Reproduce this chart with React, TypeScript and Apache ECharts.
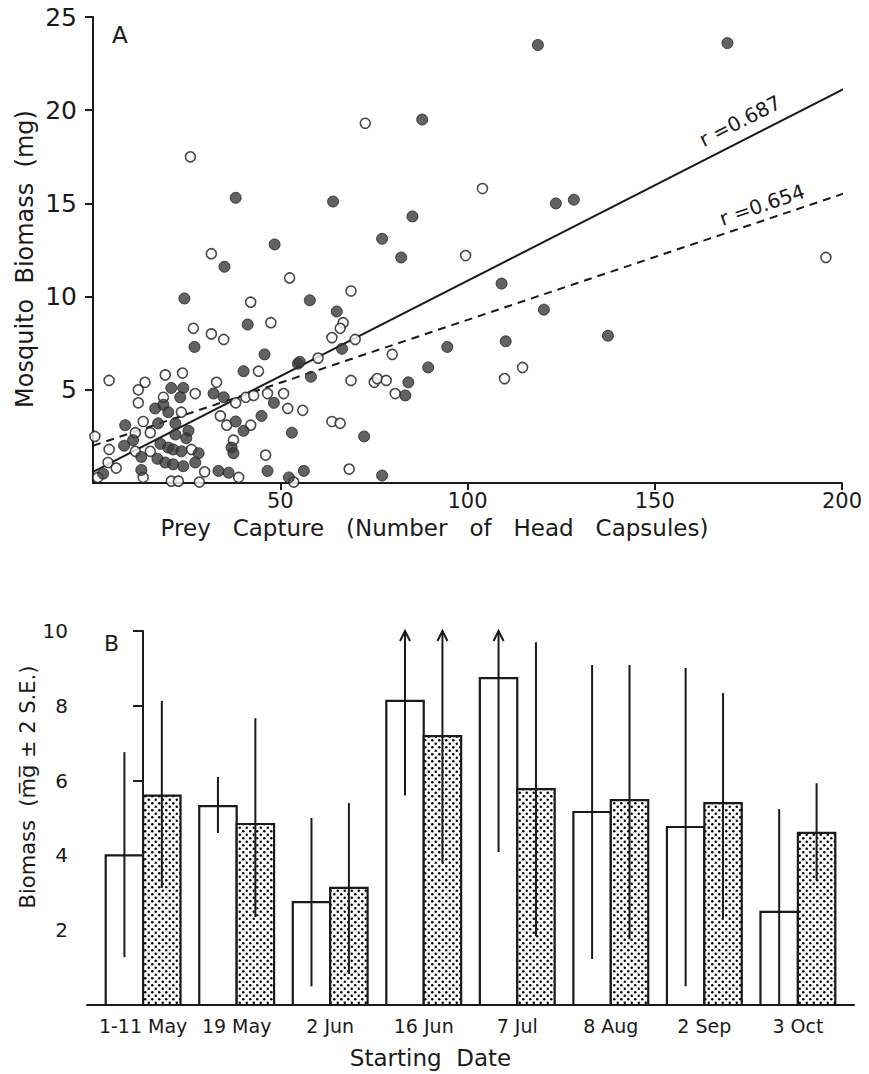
import React, { useEffect, useRef } from 'react';
import * as echarts from 'echarts';

// ---- Panel A: mosquito biomass vs prey capture ----
const openPoints: [number, number][] = [
  [0.5, 2.5], [4.3, 5.5], [4.3, 1.8], [4.0, 1.1], [6.2, 0.8], [1.3, 0.3], [12.1, 5.0], [13.9, 5.4],
  [12.1, 4.3], [13.4, 3.3], [11.3, 2.7], [15.3, 2.7], [11.3, 1.7], [15.3, 1.7], [13.4, 0.3], [19.3, 5.8],
  [23.9, 5.9], [18.8, 4.6], [23.6, 3.8], [27.3, 4.8], [33.0, 5.4], [34.0, 3.6], [35.7, 3.1], [37.5, 2.3],
  [38.1, 4.3], [40.8, 4.6], [42.9, 4.7], [42.1, 3.1], [44.2, 6.0], [46.1, 1.5], [46.6, 4.8], [50.9, 4.8],
  [52.0, 4.0], [56.0, 3.9], [26.3, 1.8], [29.8, 0.6], [20.9, 0.1], [22.8, 0.1], [28.4, 0.05], [38.9, 0.3],
  [53.6, 0.05], [31.6, 8.0], [34.9, 7.7], [26.8, 8.3], [42.1, 9.7], [47.5, 8.6], [31.6, 12.3], [52.5, 11.0],
  [26.0, 17.5], [72.7, 19.3], [104.0, 15.8], [99.5, 12.2], [195.7, 12.1], [68.9, 10.3], [66.8, 8.6], [66.0, 8.3],
  [63.8, 7.8], [70.0, 7.7], [60.1, 6.7], [68.9, 5.5], [75.1, 5.4], [75.9, 5.6], [78.3, 5.5], [79.9, 6.9],
  [80.7, 4.8], [109.9, 5.6], [114.7, 6.2], [63.8, 3.3], [66.0, 3.2], [68.4, 0.75],
];

const filledPoints: [number, number][] = [
  [24.4, 9.9], [35.1, 11.6], [41.3, 8.5], [27.1, 7.3], [45.8, 6.9], [40.2, 6.0], [54.7, 6.4], [32.2, 4.8],
  [34.9, 4.6], [20.9, 5.1], [24.1, 5.1], [23.3, 4.6], [16.6, 4.0], [18.8, 4.2], [20.1, 3.8], [17.4, 3.2],
  [8.6, 3.1], [22.0, 3.2], [25.5, 2.8], [22.0, 2.6], [24.9, 2.4], [10.7, 2.3], [8.3, 2.0], [18.0, 2.1],
  [20.1, 1.9], [21.4, 1.8], [23.6, 1.7], [28.2, 1.6], [12.9, 1.4], [17.2, 1.3], [19.3, 1.1], [21.4, 1.0],
  [24.1, 0.9], [27.3, 1.1], [12.9, 0.7], [2.7, 0.5], [33.5, 0.65], [36.2, 0.55], [38.1, 3.3], [40.2, 2.8],
  [37.0, 1.9], [37.5, 1.6], [45.0, 3.6], [48.3, 4.3], [53.1, 2.7], [46.6, 0.65], [52.3, 0.3], [56.3, 0.65],
  [48.5, 12.8], [64.1, 15.1], [77.2, 13.1], [85.3, 14.3], [87.9, 19.5], [118.8, 23.5], [169.4, 23.6], [123.6, 15.0],
  [128.4, 15.2], [38.1, 15.3], [82.3, 12.1], [57.9, 9.8], [65.1, 9.2], [109.1, 10.7], [120.4, 9.3], [66.5, 7.2],
  [55.2, 6.5], [58.2, 5.7], [72.4, 2.5], [94.6, 7.3], [89.5, 6.2], [110.2, 7.6], [84.2, 5.4], [83.4, 4.7],
  [77.2, 0.4], [137.5, 7.9],
];

// regression lines, given by their end points
const solidFit: [number, number][] = [[0, 0.6], [202, 21.3]];
const dashedFit: [number, number][] = [[0, 2.0], [203, 15.7]];
const solidFitLabel = 'r =0.687';
const dashedFitLabel = 'r =0.654';

// ---- Panel B: biomass by starting date ----
const dates = ['1-11 May', '19 May', '2 Jun', '16 Jun', '7 Jul', '8 Aug', '2 Sep', '3 Oct'];
const openMean = [4.0, 5.32, 2.75, 8.13, 8.74, 5.16, 4.76, 2.49];
const openLow = [1.28, 4.6, 0.5, 5.6, 4.09, 1.23, 0.5, 0];
const openHigh: (number | null)[] = [6.76, 6.1, 5.0, null, null, 9.09, 9.01, 5.24];
const dottedMean = [5.6, 4.84, 3.13, 7.19, 5.77, 5.48, 5.4, 4.6];
const dottedLow = [3.13, 2.35, 0.83, 3.82, 1.84, 1.76, 2.33, 3.34];
const dottedHigh: (number | null)[] = [8.13, 7.67, 5.4, null, 9.7, 9.09, 8.34, 5.93];

const INK = '#1a1a1a';
const FONT = 'DejaVu Sans';
const B_MAX = 10;

function makeStipple(): HTMLCanvasElement {
  const c = document.createElement('canvas');
  c.width = 7;
  c.height = 7;
  const g = c.getContext('2d')!;
  g.fillStyle = '#ffffff';
  g.fillRect(0, 0, 7, 7);
  g.fillStyle = '#000000';
  for (const [x, y] of [[1.75, 1.75], [5.25, 5.25]]) {
    g.beginPath();
    g.arc(x, y, 1.25, 0, Math.PI * 2);
    g.fill();
  }
  return c;
}

function barRenderer(lows: number[], highs: (number | null)[], side: number, fill: any) {
  return (params: any, api: any) => {
    const i = api.value(0);
    const m = api.value(1);
    const idx = params.dataIndex;
    const left = side < 0 ? i - 0.4 : i;
    const right = side < 0 ? i : i + 0.4;
    const pTop = api.coord([left, m]);
    const pBase = api.coord([right, 0]);
    const cx = api.coord([i + side * 0.2, 0])[0];
    const yLo = api.coord([i, lows[idx]])[1];
    const hi = highs[idx];
    const yHi = api.coord([i, hi == null ? B_MAX : hi])[1];
    const children: any[] = [
      {
        type: 'rect',
        shape: { x: pTop[0], y: pTop[1], width: pBase[0] - pTop[0], height: pBase[1] - pTop[1] },
        style: { fill, stroke: INK, lineWidth: 2.2 },
      },
      {
        type: 'line',
        shape: { x1: cx, y1: yLo, x2: cx, y2: yHi },
        style: { stroke: INK, lineWidth: 2 },
      },
    ];
    if (hi == null) {
      children.push({
        type: 'polyline',
        shape: { points: [[cx - 5, yHi + 10], [cx, yHi], [cx + 5, yHi + 10]] },
        style: { stroke: INK, lineWidth: 2, fill: 'none' },
      });
    }
    return { type: 'group', children };
  };
}

export default function App() {
  const ref = useRef<HTMLDivElement>(null);

  useEffect(() => {
    if (!ref.current) return;
    const chart = echarts.init(ref.current, null, { renderer: 'svg' });
    const stipple = { image: makeStipple(), repeat: 'repeat' };
    const gap2 = '\u00a0 ';
    const gap3 = '\u00a0\u00a0 ';

    const axisText = { color: INK, fontFamily: FONT };

    chart.setOption({
      animation: false,
      backgroundColor: '#ffffff',
      grid: [
        { left: 93, top: 17, width: 749, height: 466 },
        { left: 87, top: 631, width: 767, height: 374 },
      ],
      xAxis: [
        {
          gridIndex: 0,
          type: 'value',
          min: 0,
          max: 200,
          interval: 50,
          axisLine: { lineStyle: { color: INK, width: 2 } },
          axisTick: { length: 7, lineStyle: { color: INK, width: 2 }, customValues: [50, 100, 150, 200] },
          axisLabel: { ...axisText, fontSize: 21, margin: 7, formatter: (v: number) => (v === 0 ? '' : String(v)) },
          splitLine: { show: false },
          name: ['Prey', 'Capture', '(Number', 'of', 'Head', 'Capsules)'].join(gap3),
          nameLocation: 'middle',
          nameGap: 33,
          nameMoveOverlap: false,
          nameTextStyle: { ...axisText, fontSize: 23, padding: [0, 66, 0, 0] },
        },
        {
          gridIndex: 1,
          type: 'value',
          min: -0.6,
          max: 7.6,
          axisLine: { lineStyle: { color: INK, width: 2 } },
          axisTick: { show: false },
          axisLabel: {
            ...axisText,
            fontSize: 19,
            margin: 11,
            customValues: [0, 1, 2, 3, 4, 5, 6, 7],
            formatter: (v: number) => dates[Math.round(v)] ?? '',
          },
          splitLine: { show: false },
          name: ['Starting', 'Date'].join(gap2),
          nameLocation: 'middle',
          nameGap: 41,
          nameMoveOverlap: false,
          nameTextStyle: { ...axisText, fontSize: 23, padding: [0, 80, 0, 0] },
        },
      ],
      yAxis: [
        {
          gridIndex: 0,
          type: 'value',
          min: 0,
          max: 25,
          interval: 5,
          axisLine: { show: true, lineStyle: { color: INK, width: 2 } },
          axisTick: { show: true, length: 8, lineStyle: { color: INK, width: 2 }, customValues: [5, 10, 15, 20, 25] },
          axisLabel: { ...axisText, fontSize: 25, margin: 16, formatter: (v: number) => (v === 0 ? '' : String(v)) },
          splitLine: { show: false },
          name: ['Mosquito', 'Biomass', '(mg)'].join(gap2),
          nameLocation: 'middle',
          nameGap: 56,
          nameMoveOverlap: false,
          nameTextStyle: { ...axisText, fontSize: 24, padding: [0, 18, 0, 0] },
        },
        {
          gridIndex: 1,
          type: 'value',
          min: 0,
          max: B_MAX,
          interval: 2,
          axisLine: { show: true, lineStyle: { color: INK, width: 2 } },
          axisTick: { show: true, length: 10, lineStyle: { color: INK, width: 2 }, customValues: [2, 4, 6, 8, 10] },
          axisLabel: { ...axisText, fontSize: 20, margin: 19, formatter: (v: number) => (v === 0 ? '' : String(v)) },
          splitLine: { show: false },
          name: 'Biomass' + gap2 + '(m\u0305g\u0305 \u00b1 2 S.E.)',
          nameLocation: 'middle',
          nameGap: 49,
          nameMoveOverlap: false,
          nameTextStyle: { ...axisText, fontSize: 21, padding: [0, 0, 0, 62] },
        },
      ],
      series: [
        {
          type: 'scatter',
          xAxisIndex: 0,
          yAxisIndex: 0,
          data: openPoints,
          symbol: 'circle',
          symbolSize: 10,
          itemStyle: { color: '#ffffff', borderColor: INK, borderWidth: 1.6 },
          z: 3,
        },
        {
          type: 'scatter',
          xAxisIndex: 0,
          yAxisIndex: 0,
          data: filledPoints,
          symbol: 'circle',
          symbolSize: 11,
          itemStyle: { color: '#3b3b3b', borderColor: '#222222', borderWidth: 1 },
          z: 4,
        },
        {
          type: 'line',
          xAxisIndex: 0,
          yAxisIndex: 0,
          data: solidFit,
          symbol: 'none',
          clip: false,
          lineStyle: { color: INK, width: 2 },
          z: 2,
        },
        {
          type: 'line',
          xAxisIndex: 0,
          yAxisIndex: 0,
          data: dashedFit,
          symbol: 'none',
          clip: false,
          lineStyle: { color: INK, width: 2, type: [8, 6] },
          z: 2,
        },
        {
          type: 'custom',
          xAxisIndex: 1,
          yAxisIndex: 1,
          data: openMean.map((v, i) => [i, v]),
          renderItem: barRenderer(openLow, openHigh, -1, '#ffffff'),
          z: 2,
        },
        {
          type: 'custom',
          xAxisIndex: 1,
          yAxisIndex: 1,
          data: dottedMean.map((v, i) => [i, v]),
          renderItem: barRenderer(dottedLow, dottedHigh, 1, stipple),
          z: 2,
        },
      ],
      graphic: [
        { type: 'text', left: 112, top: 23, style: { text: 'A', fontSize: 23, fontFamily: FONT, fill: INK } },
        { type: 'text', left: 104, top: 632, style: { text: 'B', fontSize: 22, fontFamily: FONT, fill: INK } },
        {
          type: 'text',
          x: 740,
          y: 121,
          rotation: (27 * Math.PI) / 180,
          style: { text: solidFitLabel, fontSize: 20, fontFamily: FONT, fill: INK, align: 'center', verticalAlign: 'middle' },
        },
        {
          type: 'text',
          x: 762,
          y: 205,
          rotation: (19 * Math.PI) / 180,
          style: { text: dashedFitLabel, fontSize: 20, fontFamily: FONT, fill: INK, align: 'center', verticalAlign: 'middle' },
        },
      ],
    });

    return () => chart.dispose();
  }, []);

  return (
    <div
      ref={ref}
      style={{ position: 'fixed', left: 0, top: 0, width: 869, height: 1074, background: '#ffffff' }}
    />
  );
}
